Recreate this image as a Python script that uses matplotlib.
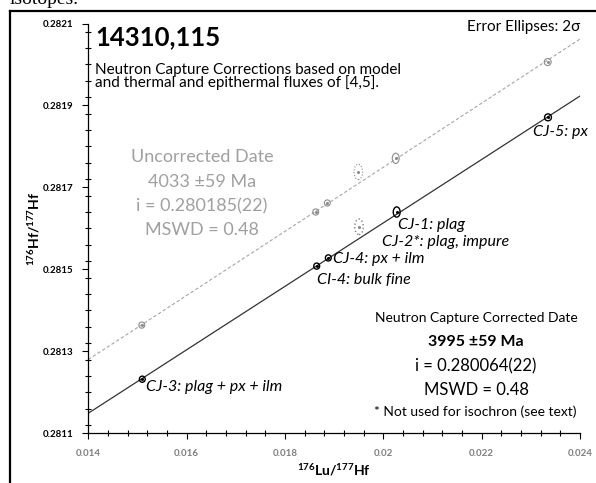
import numpy as np
import matplotlib
matplotlib.use("Agg")
import matplotlib.pyplot as plt
from matplotlib.patches import Ellipse
from matplotlib.lines import Line2D
from matplotlib.ticker import MultipleLocator, FixedLocator

plt.rcParams['font.family'] = ['Lato', 'DejaVu Sans']
plt.rcParams['mathtext.fontset'] = 'custom'
plt.rcParams['mathtext.rm'] = 'Lato'
plt.rcParams['mathtext.bf'] = 'Lato:bold'

# samples, 176Lu/177Hf and 176Hf/177Hf
samples = ['CJ-3', 'CI-4', 'CJ-4', 'CJ-2*', 'CJ-1', 'CJ-5']
labels = ['CJ-3: plag + px + ilm', 'CI-4: bulk fine', 'CJ-4: px + ilm',
          'CJ-2*: plag, impure', 'CJ-1: plag', 'CJ-5: px']
lu_corr = [0.015098, 0.018645, 0.018881, 0.019505, 0.020272, 0.023349]
hf_corr = [0.281232, 0.281508, 0.281528, 0.281604, 0.281640, 0.281871]
lu_unc = [0.015088, 0.018625, 0.018861, 0.019491, 0.020252, 0.023343]
hf_unc = [0.281364, 0.281640, 0.281662, 0.281738, 0.281771, 0.282006]
# 2 sigma full widths of the error ellipses
err_lu = [0.000120, 0.000120, 0.000120, 0.000175, 0.000140, 0.000140]
err_hf = [0.0000150, 0.0000150, 0.0000150, 0.0000380, 0.0000250, 0.0000170]
used = [True, True, True, False, True, True]

# isochron ends at x = 0.014 and 0.024
line_x = [0.014, 0.024]
line_corr = [0.281149, 0.281923]
line_unc = [0.281280, 0.282062]

xticks = [0.014, 0.016, 0.018, 0.020, 0.022, 0.024]
xticklabels = ['0.014', '0.016', '0.018', '0.02', '0.022', '0.024']
yticks = [0.2811, 0.2813, 0.2815, 0.2817, 0.2819, 0.2821]

W, H = 596, 483
fig = plt.figure(figsize=(W / 100, H / 100), dpi=100)
ax = fig.add_axes([88.3 / W, 1 - 433.3 / H, (580 - 88.3) / W, (433.3 - 23.5) / H])

def fx(px):
    return px / W

def fy(py):
    return 1 - py / H

ax.plot(line_x, line_unc, color='#a6a6a6', lw=0.8, ls=(0, (3, 2)), zorder=1)
ax.plot(line_x, line_corr, color='#333333', lw=0.9, zorder=1)

for i in range(len(samples)):
    if used[i]:
        c_unc, c_cor, ls = '#8c8c8c', 'black', '-'
    else:
        c_unc, c_cor, ls = '#8c8c8c', '#7f7f7f', ':'
    ax.add_patch(Ellipse((lu_unc[i], hf_unc[i]), err_lu[i], err_hf[i],
                         fill=False, ec=c_unc, lw=0.8, ls=ls, zorder=3))
    ax.add_patch(Ellipse((lu_corr[i], hf_corr[i]), err_lu[i], err_hf[i],
                         fill=False, ec=c_cor, lw=1.0, ls=ls, zorder=3))
    ax.plot(lu_unc[i], hf_unc[i], marker='o', ms=1.2, color='#8c8c8c', zorder=4)
    ax.plot(lu_corr[i], hf_corr[i], marker='o', ms=1.2,
            color='black' if used[i] else '#8c8c8c', zorder=4)

offsets = [(4, -8), (0, -14), (5, -1), (23, -15), (1, -13), (-15, -15)]
for i in range(len(samples)):
    ax.annotate(labels[i], (lu_corr[i], hf_corr[i]), xytext=offsets[i],
                textcoords='offset pixels', ha='left', va='center',
                fontsize=11.5, style='italic', color='black')

ax.set_xlim(0.014, 0.024)
ax.set_ylim(0.2811, 0.2821)
ax.xaxis.set_major_locator(FixedLocator(xticks))
ax.set_xticklabels(xticklabels)
ax.xaxis.set_minor_locator(MultipleLocator(0.0004))
ax.yaxis.set_major_locator(FixedLocator(yticks))
ax.set_yticklabels(['%.4f' % v for v in yticks])
ax.yaxis.set_minor_locator(MultipleLocator(0.00004))
for s in ['top', 'right']:
    ax.spines[s].set_visible(False)
for s in ['left', 'bottom']:
    ax.spines[s].set_linewidth(0.9)
ax.tick_params(which='major', direction='out', length=4, width=0.8)
ax.tick_params(which='minor', direction='inout', length=4, width=0.8)
ax.tick_params(axis='x', which='major', pad=7, labelsize=7, labelcolor='#7f7f7f')
ax.tick_params(axis='y', which='major', pad=7, labelsize=7, labelcolor='black')
for t in ax.get_xticklabels() + ax.get_yticklabels():
    t.set_fontweight('bold')

ax.set_xlabel(r'$\mathbf{^{176}Lu/^{177}Hf}$', fontsize=10, labelpad=3)
ax.set_ylabel(r'$\mathbf{^{176}Hf/^{177}Hf}$', fontsize=10, labelpad=0)

# frame cut out of a page
fig.add_artist(Line2D([fx(10), 1], [fy(11), fy(11)], color='black', lw=1.6))
fig.add_artist(Line2D([fx(10), fx(10)], [fy(11), 0], color='black', lw=1.6))
fig.text(fx(10), fy(4), 'isotopes.', family='Liberation Serif', fontsize=14,
         va='baseline', ha='left')

fig.text(fx(95), fy(45), '14310,115', fontsize=18.5, fontweight='bold',
         va='baseline', ha='left')
fig.text(fx(95), fy(69.5), 'Neutron Capture Corrections based on model',
         fontsize=11, va='center', ha='left')
fig.text(fx(95), fy(82.5), 'and thermal and epithermal fluxes of [4,5].',
         fontsize=11, va='center', ha='left')
fig.text(fx(580), fy(27), 'Error Ellipses: 2σ', fontsize=11, va='center', ha='right')

gray = '#a0a0a0'
unc_lines = ['Uncorrected Date', '4033 ±59 Ma', 'i = 0.280185(22)', 'MSWD = 0.48']
for k, (txt, yy) in enumerate(zip(unc_lines, [157, 182, 206, 230])):
    fig.text(fx(202), fy(yy), txt, fontsize=13, color=gray, ha='center', va='center')

cor_lines = ['Neutron Capture Corrected Date', '3995 ±59 Ma', 'i = 0.280064(22)', 'MSWD = 0.48']
cor_sizes = [10, 11.5, 12, 12]
for k, (txt, yy) in enumerate(zip(cor_lines, [318, 342, 366, 390])):
    fig.text(fx(476), fy(yy), txt, fontsize=cor_sizes[k], color='black', ha='center',
             va='center', fontweight='bold' if k == 1 else 'normal')
fig.text(fx(577), fy(412), '* Not used for isochron (see text)', fontsize=10,
         ha='right', va='center')

fig.savefig('out.png', dpi=100)
